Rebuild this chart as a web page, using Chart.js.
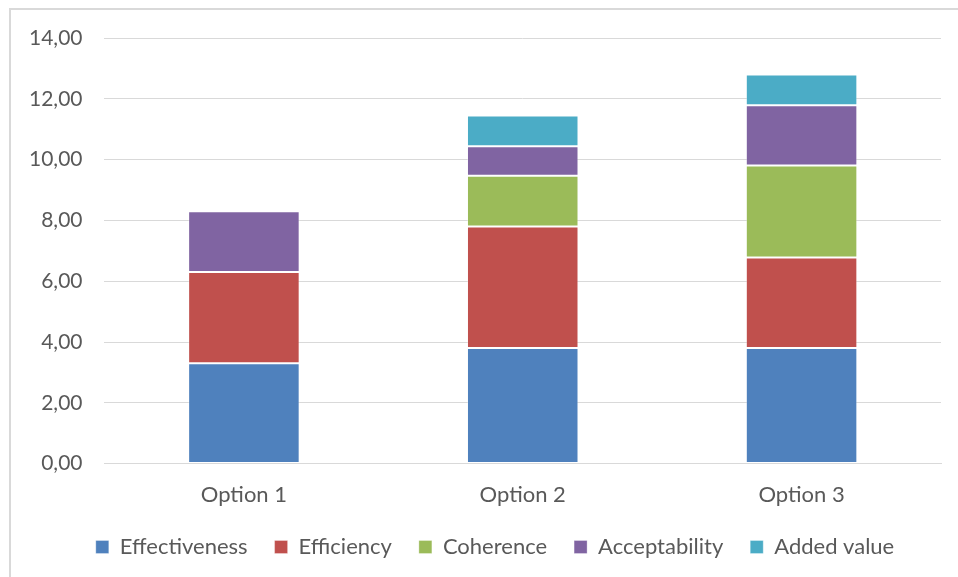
<!DOCTYPE html>
<html>
<head>
<meta charset="utf-8">
<script src="https://cdn.jsdelivr.net/npm/chart.js@4/dist/chart.umd.min.js"></script>
<style>
    html, body { margin: 0; padding: 0; background: #fff; overflow: hidden; }
    #frame {
        position: absolute; left: 9px; top: 8px;
        width: 980px; height: 600px;
        border: 2px solid #d9d9d9;
    }
    #wrap { position: absolute; left: 0; top: 0; width: 958px; height: 577px; }
</style>
</head>
<body>
<div id="frame"></div>
<div id="wrap"><canvas id="chart"></canvas></div>
<script>
// Chart data
const categories = ['Option 1', 'Option 2', 'Option 3'];
const effectiveness = [3.30, 3.80, 3.80];
const efficiency = [3.00, 4.00, 2.98];
const coherence = [0, 1.67, 3.03];
const acceptability = [2.00, 0.97, 1.98];
const addedValue = [0, 1.01, 1.01];

const seriesNames = ['Effectiveness', 'Efficiency', 'Coherence', 'Acceptability', 'Added value'];
const seriesColors = ['#4F81BD', '#C0504D', '#9BBB59', '#8064A2', '#4BACC6'];
const seriesValues = [effectiveness, efficiency, coherence, acceptability, addedValue];

const yMin = 0;
const yMax = 14;
const yStep = 2;

const FONT = 'Lato, "Open Sans", sans-serif';
const TEXT = '#595959';

// Excel puts the legend closer to the axis labels than Chart.js does,
// so nudge the legend box after layout
const legendShift = {
    id: 'legendShift',
    afterLayout(chart) {
        const lg = chart.legend;
        if (!lg) return;
        lg.top -= 17; lg.bottom -= 17;
        lg.left += 21; lg.right += 21;
    }
};

document.addEventListener('DOMContentLoaded', function() {
    const ctx = document.getElementById('chart').getContext('2d');

    const datasets = seriesNames.map((name, i) => ({
        label: name,
        data: seriesValues[i],
        backgroundColor: seriesColors[i],
        borderColor: 'rgba(255,255,255,0.3)',
        borderWidth: 1,
        borderSkipped: false,
        categoryPercentage: 1.0,
        barPercentage: 0.4
    }));

    new Chart(ctx, {
        type: 'bar',
        data: { labels: categories, datasets: datasets },
        plugins: [legendShift],
        options: {
            responsive: true,
            maintainAspectRatio: false,
            animation: false,
            layout: { padding: { left: 7, right: 17, top: 38, bottom: -8 } },
            scales: {
                x: {
                    stacked: true,
                    grid: { display: false, drawTicks: false },
                    border: { display: true, color: '#d9d9d9', width: 1 },
                    ticks: { color: TEXT, font: { family: FONT, size: 22 }, padding: 18 }
                },
                y: {
                    stacked: true,
                    min: yMin,
                    max: yMax,
                    grid: { color: '#d9d9d9', lineWidth: 1, drawTicks: false },
                    border: { display: false },
                    ticks: {
                        stepSize: yStep,
                        color: TEXT,
                        padding: 22,
                        font: { family: FONT, size: 21 },
                        callback: v => v.toFixed(2).replace('.', ',')
                    }
                }
            },
            plugins: {
                legend: {
                    position: 'bottom',
                    labels: {
                        color: TEXT,
                        font: { family: FONT, size: 22 },
                        boxWidth: 13,
                        boxHeight: 13,
                        padding: 27
                    }
                },
                tooltip: { enabled: false }
            }
        }
    });
});
</script>
</body>
</html>
